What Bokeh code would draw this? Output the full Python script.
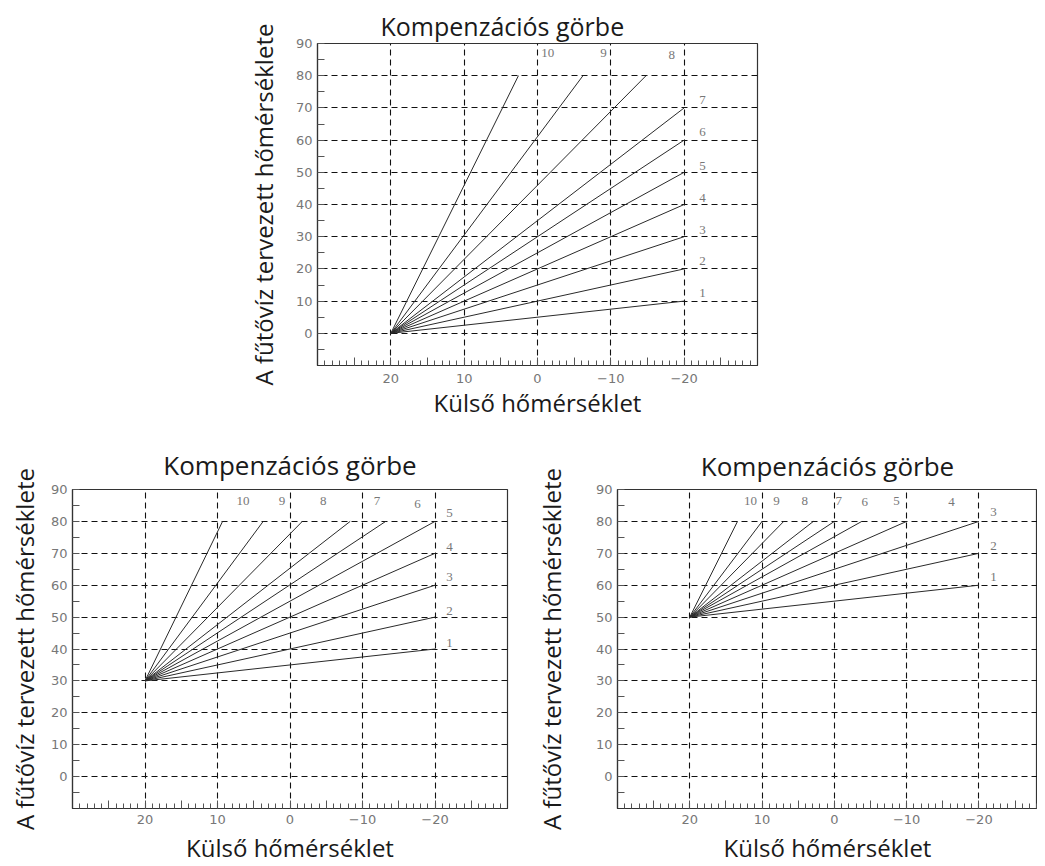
from bokeh.plotting import figure
from bokeh.layouts import column, row, Spacer
from bokeh.models import Range1d, FixedTicker, ColumnDataSource
from bokeh.core.properties import value
from bokeh.embed import file_html
from bokeh.resources import INLINE

# ---------------- data ----------------
TITLE = "Kompenzációs görbe"
X_LABEL = "Külső hőmérséklet"
Y_LABEL = "A fűtővíz tervezett hőmérséklete"

x_tick_vals = [20, 10, 0, -10, -20]
x_tick_text = ["20", "10", "0", "\u221210", "\u221220"]
y_tick_vals = [0, 10, 20, 30, 40, 50, 60, 70, 80, 90]

curve_ids = ["1", "2", "3", "4", "5", "6", "7", "8", "9", "10"]

# chart 1 (top): all curves start at (20, 0)
c1_start_x = 20
c1_start_y = 0
c1_end_x = [-20, -20, -20, -20, -20, -20, -20, -14.8, -6.2, 2.6]
c1_end_y = [10, 20, 30, 40, 50, 60, 70, 80, 80, 80]
c1_lab_x = [-22.5, -22.5, -22.5, -22.5, -22.5, -22.5, -22.5, -18.3, -9.0, -1.4]
c1_lab_y = [12.5, 22.5, 32.0, 42.0, 52.0, 62.5, 72.5, 86.3, 87.0, 87.0]

# chart 2 (bottom left): curves start at (20, 30)
c2_start_x = 20
c2_start_y = 30
c2_end_x = [-20, -20, -20, -20, -20, -13.2, -8.3, -1.7, 3.7, 9.3]
c2_end_y = [40, 50, 60, 70, 80, 80, 80, 80, 80, 80]
c2_lab_x = [-22.0, -22.0, -22.0, -22.0, -22.0, -17.6, -12.0, -4.6, 1.1, 6.5]
c2_lab_y = [42.0, 52.0, 62.5, 72.0, 82.5, 85.6, 86.5, 86.5, 86.5, 86.5]

# chart 3 (bottom right): curves start at (20, 50)
c3_start_x = 20
c3_start_y = 50
c3_end_x = [-20, -20, -20, -10, -3.8, 0, 2.9, 7.0, 10.0, 13.4]
c3_end_y = [60, 70, 80, 80, 80, 80, 80, 80, 80, 80]
c3_lab_x = [-22.0, -22.0, -22.0, -16.2, -8.6, -4.2, -0.6, 4.1, 8.0, 11.6]
c3_lab_y = [62.5, 72.4, 83.0, 86.0, 86.5, 86.0, 86.5, 86.5, 86.5, 86.5]

SANS = "Open Sans"


def make_chart(start_x, start_y, end_x, end_y, lab_x, lab_y, x_right,
               frame_w, frame_h, mb_left, mb_top, mb_bottom, mb_right,
               title_size, title_standoff, title_align, title_offset,
               ylab_standoff, xlab_size, xlab_standoff, xtick_standoff):
    p = figure(output_backend="svg", toolbar_location=None,
               frame_width=frame_w, frame_height=frame_h,
               x_range=Range1d(30, x_right), y_range=Range1d(-10, 90),
               min_border_left=mb_left, min_border_top=mb_top,
               min_border_bottom=mb_bottom, min_border_right=mb_right,
               title=TITLE, background_fill_color="white",
               border_fill_color="white")
    p.title.text_font = SANS
    p.title.text_font_style = "normal"
    p.title.text_font_size = title_size
    p.title.text_color = "#1a1a1a"
    p.title.align = title_align
    p.title.standoff = title_standoff
    p.title.offset = title_offset

    p.outline_line_color = "#333333"
    p.outline_line_width = 1.2

    # x axis
    xa = p.xaxis[0]
    major5 = [v for v in range(-25, 30, 5)]
    xa.ticker = FixedTicker(ticks=major5, minor_ticks=list(range(-29, 30)))
    overrides = {v: "" for v in major5}
    for v, t in zip(x_tick_vals, x_tick_text):
        overrides[v] = t
    xa.major_label_overrides = overrides
    xa.major_tick_in = 8
    xa.major_tick_out = 0
    xa.minor_tick_in = 5
    xa.minor_tick_out = 0
    xa.major_tick_line_color = "#555555"
    xa.minor_tick_line_color = "#555555"
    xa.axis_line_color = "#333333"
    xa.axis_line_width = 1.2
    xa.major_label_text_font = "DejaVu Sans"
    xa.major_label_text_font_size = "13px"
    xa.major_label_text_color = "#777777"
    xa.major_label_standoff = xtick_standoff
    xa.axis_label = X_LABEL
    xa.axis_label_text_font = SANS
    xa.axis_label_text_font_style = "normal"
    xa.axis_label_text_font_size = xlab_size
    xa.axis_label_text_color = "#1a1a1a"
    xa.axis_label_standoff = xlab_standoff

    # y axis
    ya = p.yaxis[0]
    ya.ticker = FixedTicker(ticks=y_tick_vals,
                            minor_ticks=[v + 5 for v in range(-10, 90, 10)])
    ya.major_tick_in = 7
    ya.major_tick_out = 0
    ya.minor_tick_in = 7
    ya.minor_tick_out = 0
    ya.major_tick_line_color = "#555555"
    ya.minor_tick_line_color = "#555555"
    ya.axis_line_color = "#333333"
    ya.axis_line_width = 1.2
    ya.major_label_text_font = "DejaVu Sans"
    ya.major_label_text_font_size = "13px"
    ya.major_label_text_color = "#777777"
    ya.major_label_standoff = 5
    ya.axis_label = Y_LABEL
    ya.axis_label_text_font = SANS
    ya.axis_label_text_font_style = "normal"
    ya.axis_label_text_font_size = "24px"
    ya.axis_label_text_color = "#1a1a1a"
    ya.axis_label_standoff = ylab_standoff

    # dashed grid
    p.xgrid.ticker = FixedTicker(ticks=x_tick_vals)
    p.ygrid.ticker = FixedTicker(ticks=[v for v in y_tick_vals if v < 90])
    for g in (p.xgrid, p.ygrid):
        g.grid_line_color = "#111111"
        g.grid_line_dash = "6 4"
        g.grid_line_width = 1.1

    n = len(end_x)
    src = ColumnDataSource(dict(x0=[start_x] * n, y0=[start_y] * n,
                                x1=end_x, y1=end_y))
    p.segment(x0="x0", y0="y0", x1="x1", y1="y1", source=src,
              line_color="#2a2a2a", line_width=1.0)

    lsrc = ColumnDataSource(dict(x=lab_x, y=lab_y, t=curve_ids))
    p.text(x="x", y="y", text="t", source=lsrc,
           text_font=value("Liberation Serif"), text_font_size="13px",
           text_color="#777777", text_align="center",
           text_baseline="middle")
    return p


# top: 43 + 322 + 57 = 422 tall
p_top = make_chart(c1_start_x, c1_start_y, c1_end_x, c1_end_y, c1_lab_x,
                   c1_lab_y, -30, 440, 322, 75, 43, 57, 20,
                   "25px", 2, "left", 63, 13, "24px", 0, 8)
# bottom row: 67 + 319 + 58 = 444 tall
p_left = make_chart(c2_start_x, c2_start_y, c2_end_x, c2_end_y, c2_lab_x,
                    c2_lab_y, -30, 435, 319, 72, 67, 58, 10,
                    "26px", 13, "center", 0, 7, "24px", 4, 6)
p_right = make_chart(c3_start_x, c3_start_y, c3_end_x, c3_end_y, c3_lab_x,
                     c3_lab_y, -28.1, 420, 319, 100, 67, 58, 0,
                     "26px", 11, "center", 0, 25, "24px", 4, 6)

layout = column(row(Spacer(width=242, height=422), p_top),
                row(p_left, p_right))

open("out.html", "w").write(file_html(layout, INLINE))
